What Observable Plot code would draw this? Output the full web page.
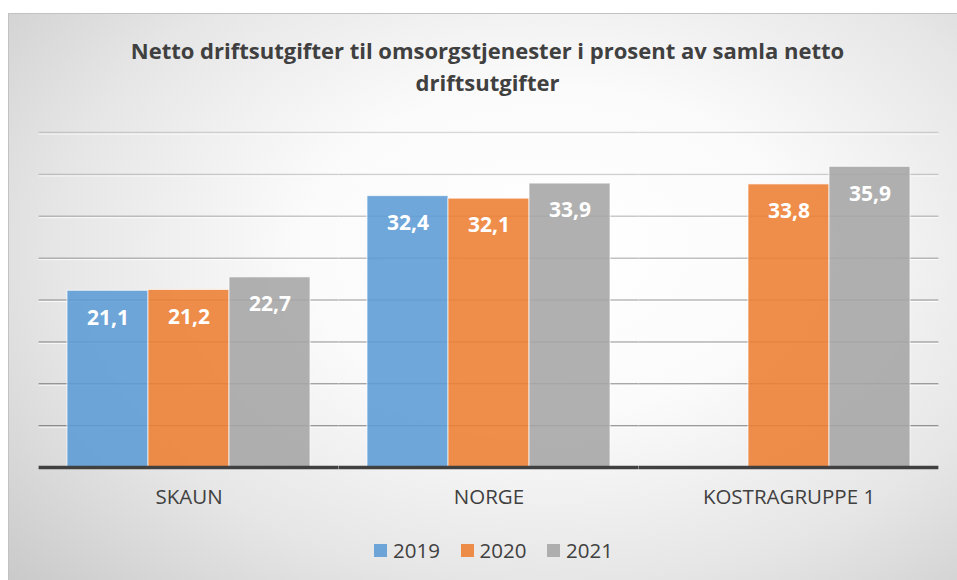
<!DOCTYPE html>
<html>
<head>
<meta charset="utf-8">
<script src="https://cdn.jsdelivr.net/npm/d3@7"></script>
<script src="https://cdn.jsdelivr.net/npm/@observablehq/plot@0.6"></script>
<style>
  html, body { margin: 0; padding: 0; background: #fff; }
  body { width: 957px; height: 580px; position: relative; overflow: hidden; font-family: "Open Sans", sans-serif; }
  #frame {
    position: absolute; left: 8px; top: 13px; width: 949px; height: 567px;
    background: radial-gradient(ellipse 80% 90% at 57% 42%, #ffffff 0%, #fbfbfb 32%, #e6e6e6 65%, #c6c6c6 100%);
    box-shadow: inset 1px 1px 0 #c2c2c2;
  }
  #title {
    position: absolute; left: 5px; top: 21px; width: 949px; text-align: center;
    font-weight: 700; font-size: 22px; line-height: 32px; color: #404040;
  }
  #chart { position: absolute; left: 0; top: 97px; }
  #legend {
    position: absolute; left: 366px; top: 525px; height: 24px;
    display: flex; align-items: center; font-size: 20.5px; color: #404040;
  }
  .item { display: flex; align-items: center; width: 86.5px; }
  .sw { width: 13px; height: 13px; margin-right: 6px; }
</style>
</head>
<body>
<div id="frame">
  <div id="title"></div>
  <div id="chart"></div>
  <div id="legend"></div>
</div>
<script>
const titleLines = ["Netto driftsutgifter til omsorgstjenester i prosent av samla netto", "driftsutgifter"];
const categories = ["SKAUN", "NORGE", "KOSTRAGRUPPE 1"];
const years = ["2019", "2020", "2021"];
const colors = ["#5B9BD5", "#ED7D31", "#A5A5A5"];
const values2019 = [21.1, 32.4, null];
const values2020 = [21.2, 32.1, 33.8];
const values2021 = [22.7, 33.9, 35.9];
const gridTicks = [5, 10, 15, 20, 25, 30, 35, 40];

const series = [values2019, values2020, values2021];
const data = [];
categories.forEach((c, i) => {
  years.forEach((y, j) => {
    const v = series[j][i];
    if (v != null) data.push({category: c, year: y, value: v});
  });
});

document.getElementById("title").innerHTML = titleLines.join("<br>");

const fmt = v => v.toFixed(1).replace(".", ",");

const W = 949, ML = 30, MR = 17;
const padInner = 0.182, padOuter = padInner / 2;
// half of the gap between facets, so that rules drawn per facet join into one line
const step = (W - ML - MR) / (categories.length - padInner + 2 * padOuter);
const ext = -step * padOuter;

const chart = Plot.plot({
  width: W,
  height: 410,
  marginLeft: ML,
  marginRight: MR,
  marginTop: 22,
  marginBottom: 53,
  style: {background: "transparent", fontFamily: "Open Sans, sans-serif", fontSize: "20.5px", color: "#404040", overflow: "visible"},
  fx: {domain: categories, paddingInner: padInner, paddingOuter: padOuter, label: null, tickSize: 0, tickPadding: 22, axis: "bottom"},
  x: {domain: years, padding: 0, axis: null},
  y: {domain: [0, 40], axis: null},
  color: {domain: years, range: colors},
  marks: [
    Plot.ruleY(gridTicks, {y: d => d, stroke: "#000", strokeOpacity: d => 0.40 - 0.0065 * d, strokeWidth: 1.5, insetLeft: ext, insetRight: ext}),
    Plot.ruleY(gridTicks, {y: d => d, stroke: "#fff", strokeOpacity: 0.8, strokeWidth: 1, dy: 1.5, insetLeft: ext, insetRight: ext}),
    Plot.barY(data, {fx: "category", x: "year", y: "value", fill: "year", fillOpacity: 0.88, stroke: "#fff", strokeOpacity: 0.7, strokeWidth: 1}),
    Plot.text(data, {fx: "category", x: "year", y: "value", text: d => fmt(d.value), dy: 27, fill: "#fff", fontWeight: "bold", fontSize: 21}),
    Plot.ruleY([0], {stroke: "#404040", strokeWidth: 3.5, insetLeft: ext, insetRight: ext})
  ]
});
document.getElementById("chart").appendChild(chart);

const legend = document.getElementById("legend");
years.forEach((y, i) => {
  const item = document.createElement("div");
  item.className = "item";
  item.innerHTML = `<span class="sw" style="background:${colors[i]};opacity:0.88"></span><span>${y}</span>`;
  legend.appendChild(item);
});
</script>
</body>
</html>
